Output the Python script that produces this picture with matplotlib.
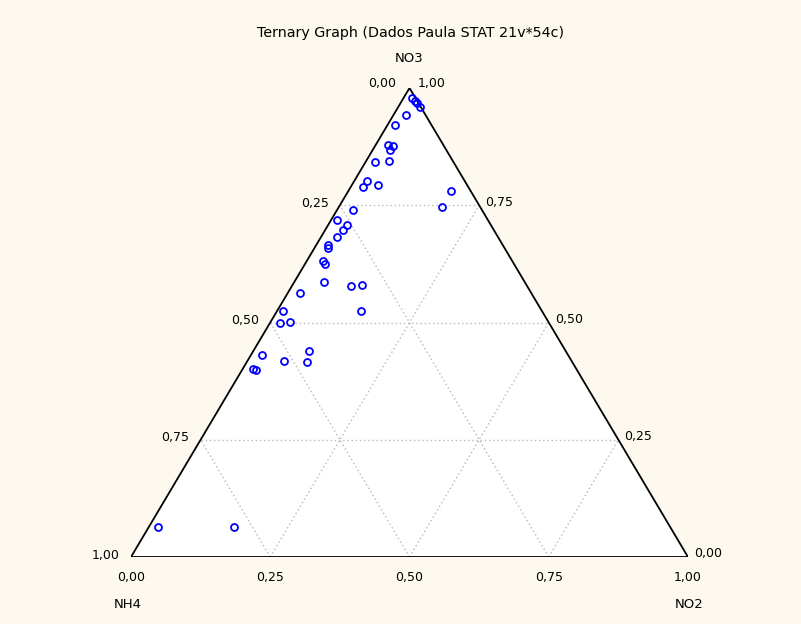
import matplotlib
matplotlib.use("Agg")
import matplotlib.pyplot as plt

# Composition of each sample (fractions summing to 1)
nh4 = [0.006, 0.004, 0.003, 0.002, 0.035, 0.066, 0.100, 0.092, 0.101, 0.141,
       0.115, 0.176, 0.189, 0.160, 0.035, 0.069, 0.231, 0.271, 0.258, 0.271,
       0.289, 0.314, 0.317, 0.340, 0.339, 0.360, 0.415, 0.316, 0.295, 0.465,
       0.325, 0.483, 0.464, 0.549, 0.581, 0.576, 0.516, 0.460, 0.476, 0.920,
       0.783]
no2 = [0.015, 0.024, 0.030, 0.038, 0.023, 0.013, 0.022, 0.032, 0.031, 0.017,
       0.041, 0.023, 0.022, 0.047, 0.184, 0.185, 0.029, 0.011, 0.034, 0.032,
       0.029, 0.021, 0.024, 0.029, 0.036, 0.053, 0.022, 0.106, 0.125, 0.011,
       0.151, 0.018, 0.035, 0.020, 0.019, 0.025, 0.066, 0.100, 0.108, 0.016,
       0.153]
no3 = [0.979, 0.972, 0.968, 0.962, 0.942, 0.921, 0.878, 0.876, 0.868, 0.842,
       0.844, 0.802, 0.789, 0.793, 0.780, 0.746, 0.740, 0.719, 0.708, 0.697,
       0.682, 0.665, 0.659, 0.631, 0.625, 0.586, 0.563, 0.578, 0.580, 0.525,
       0.525, 0.499, 0.501, 0.431, 0.401, 0.399, 0.418, 0.439, 0.416, 0.064,
       0.064]

tick_values = [0.0, 0.25, 0.5, 0.75, 1.0]
tick_labels = ["0,00", "0,25", "0,50", "0,75", "1,00"]
title = "Ternary Graph (Dados Paula STAT 21v*54c)"

FONT = "DejaVu Sans"
FS = 9


def to_xy(a, b, c):
    """Ternary (NH4, NO2, NO3) -> cartesian inside the unit triangle."""
    total = a + b + c
    b, c = b / total, c / total
    return b + c / 2.0, c


W, H = 801, 624
fig = plt.figure(figsize=(W / 100, H / 100), dpi=100)
fig.patch.set_facecolor("#fdf9ee")

ax = fig.add_axes([131 / W, (H - 557) / H, 557 / W, 469 / H])
ax.set_xlim(0, 1)
ax.set_ylim(0, 1)
ax.axis("off")

# Triangle body
ax.fill([0, 1, 0.5], [0, 0, 1], color="white", zorder=0)

# Dotted grid in the three directions
grid_kw = dict(color="#b8b8b8", lw=1.0, linestyle=(0, (1, 2)), zorder=1)
for t in tick_values[1:-1]:
    # constant NO3
    ax.plot([t / 2, 1 - t / 2], [t, t], **grid_kw)
    # constant NO2
    ax.plot([t, t + (1 - t) / 2], [0, 1 - t], **grid_kw)
    # constant NH4
    ax.plot([1 - t, (1 - t) / 2], [0, 1 - t], **grid_kw)

# Triangle edges
ax.plot([0, 1, 0.5, 0], [0, 0, 1, 0], color="black", lw=1.3, zorder=2,
        solid_joinstyle="miter")

# Samples
xs, ys = zip(*[to_xy(a, b, c) for a, b, c in zip(nh4, no2, no3)])
ax.plot(xs, ys, linestyle="none", marker="o", ms=5, mfc="none",
        mec="#0000ff", mew=1.3, zorder=3, clip_on=False)


def label(text, xy, off, ha, va, size=FS):
    ax.annotate(text, xy=xy, xytext=off, textcoords="offset pixels",
                ha=ha, va=va, fontsize=size, family=FONT, color="black",
                annotation_clip=False)


# Left edge: NH4 (0 at top, 1 at bottom-left)
for v, s in zip(tick_values, tick_labels):
    pos = to_xy(v, 0, 1 - v)
    off = (-13, 5) if v == 0 else (-11, 2)
    label(s, pos, off, "right", "center")

# Right edge: NO3 (1 at top, 0 at bottom-right)
for v, s in zip(tick_values, tick_labels):
    pos = to_xy(0, 1 - v, v)
    off = (8, 5) if v == 1 else (6, 3)
    label(s, pos, off, "left", "center")

# Bottom edge: NO2 (0 at left, 1 at right)
for v, s in zip(tick_values, tick_labels):
    label(s, (v, 0), (0, -21), "center", "center")

# Component names
label("NO3", (0.5, 1), (0, 30), "center", "center", 9.5)
label("NH4", (0, 0), (-3, -48), "center", "center", 9.5)
label("NO2", (1, 0), (1, -48), "center", "center", 9.5)

fig.text(411 / W, 1 - 33 / H, title, ha="center", va="center",
         fontsize=10.3, family=FONT, color="black")

fig.savefig("out.png", dpi=100, facecolor=fig.get_facecolor())
